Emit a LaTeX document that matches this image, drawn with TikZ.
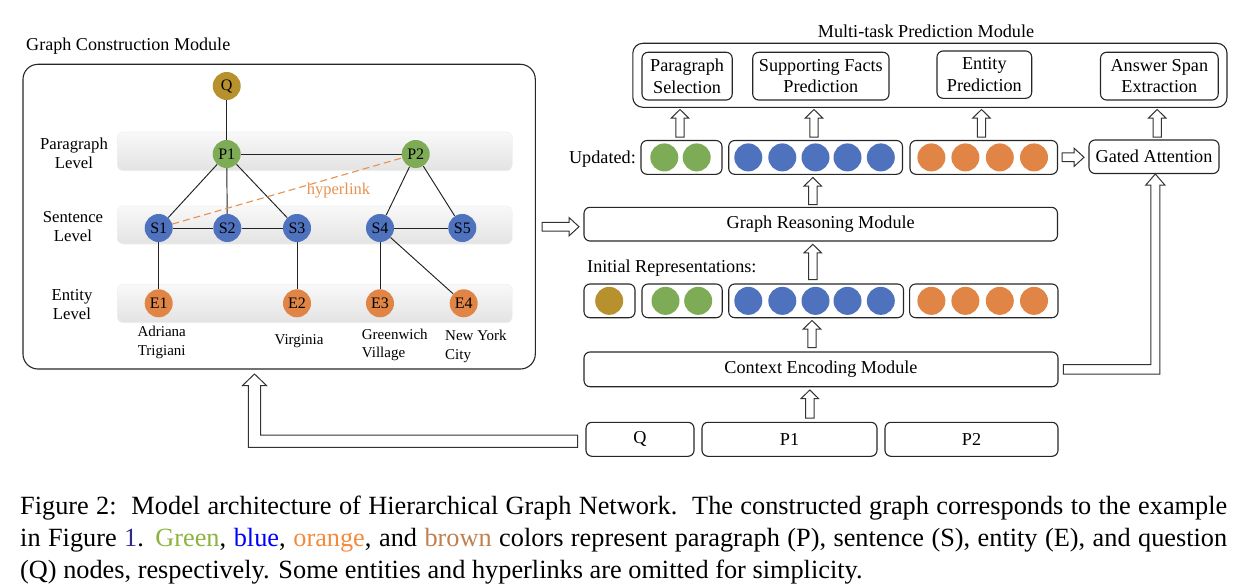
\documentclass[tikz,border=0pt]{standalone}
\usepackage{fontspec}
\setmainfont{Liberation Serif}
\usetikzlibrary{calc}
\definecolor{cgreen}{HTML}{7EAB55}
\definecolor{cblue}{HTML}{4F72BE}
\definecolor{corange}{HTML}{E08546}
\definecolor{cbrown}{HTML}{B8912F}
\definecolor{hyper}{HTML}{E8914F}
\definecolor{capgreen}{HTML}{8CB43C}
\definecolor{capblue}{HTML}{0000FF}
\definecolor{caporange}{HTML}{F58A3C}
\definecolor{capbrown}{HTML}{C08050}
\definecolor{caplink}{HTML}{2E2A8A}
\definecolor{edgecol}{HTML}{222222}
\pgfdeclarelayer{bottom}
\pgfdeclarelayer{background}
\pgfsetlayers{bottom,background,main}
\newcommand{\blockup}[3]{\draw[barrow] (#1-4.2,#3) -- (#1-4.2,#2+8.5) -- (#1-8.7,#2+8.5) -- (#1,#2) -- (#1+8.7,#2+8.5) -- (#1+4.2,#2+8.5) -- (#1+4.2,#3) -- cycle;}
\newcommand{\blockright}[3]{\draw[barrow] (#2,#1-4.4) -- (#3-10,#1-4.4) -- (#3-10,#1-9.2) -- (#3,#1) -- (#3-10,#1+9.2) -- (#3-10,#1+4.4) -- (#2,#1+4.4) -- cycle;}
\begin{document}
\begin{tikzpicture}[x=1pt,y=-1pt,
  fs/.style={font=\fontsize{18.2}{21.7}\selectfont},
  rbox/.style={draw=black!85, line width=1.1pt, rounded corners=6pt, inner sep=0pt, align=center, fs},
  band/.style={rounded corners=6pt, top color=gray!5, bottom color=gray!22, draw=gray!12, line width=0.6pt},
  gnode/.style={circle, minimum size=28pt, inner sep=0pt, font=\fontsize{16}{16}\selectfont},
  dot/.style={circle, minimum size=28pt, inner sep=0pt},
  edge/.style={draw=edgecol, line width=0.95pt},
  barrow/.style={draw=black!80, line width=1pt, fill=white, line join=miter},
  lvl/.style={align=center, inner sep=0pt, font=\fontsize{16.7}{19}\selectfont},
  ent/.style={inner sep=0pt, font=\fontsize{15}{18.7}\selectfont},
  lbl/.style={inner sep=0pt, fs},
  captxt/.style={inner sep=0pt, anchor=base west, font=\fontsize{26.3}{32}\selectfont},
]
\useasboundingbox (0,0) rectangle (1258,586);

% ---------------- Graph Construction Module ----------------
\node[lbl, anchor=west, font=\fontsize{18.1}{20}\selectfont] (gcmtitle) at (26,45.7) {Graph Construction Module};
\node[draw=black!85, line width=1.1pt, rounded corners=15pt, minimum width=512.3pt, minimum height=304.7pt, inner sep=0pt] (gcm) at (279.15,216.65) {};

\begin{pgfonlayer}{bottom}
\draw[band] (117.3,132) rectangle (512.3,170.7);
\draw[band] (117.3,206) rectangle (512.3,244);
\draw[band] (117.3,284.3) rectangle (512.3,322.7);
\end{pgfonlayer}

\node[lvl] (lp) at (74,153.5) {Paragraph\\Level};
\node[lvl] (ls) at (73,226.3) {Sentence\\Level};
\node[lvl] (le) at (72,304.5) {Entity\\Level};

\node[gnode, fill=cbrown] (Q) at (226.7,86) {Q};
\node[gnode, fill=cgreen] (P1) at (226.7,154) {P1};
\node[gnode, fill=cgreen] (P2) at (415.7,154) {P2};
\node[gnode, fill=cblue] (S1) at (158.7,228) {S1};
\node[gnode, fill=cblue] (S2) at (227.3,228) {S2};
\node[gnode, fill=cblue] (S3) at (297,228) {S3};
\node[gnode, fill=cblue] (S4) at (380,228) {S4};
\node[gnode, fill=cblue] (S5) at (462.3,228) {S5};
\node[gnode, fill=corange] (E1) at (158.7,303.3) {E1};
\node[gnode, fill=corange] (E2) at (297,303.3) {E2};
\node[gnode, fill=corange] (E3) at (380,303.3) {E3};
\node[gnode, fill=corange] (E4) at (463.7,303.3) {E4};

\begin{pgfonlayer}{background}
\draw[edge] (Q) -- (P1);
\draw[edge] (P1) -- (P2);
\draw[edge] (P1) -- (S1);
\draw[edge] (P1) -- (S2);
\draw[edge] (P1) -- (S3);
\draw[edge] (P2) -- (S4);
\draw[edge] (P2) -- (S5);
\draw[edge] (S1) -- (S2);
\draw[edge] (S2) -- (S3);
\draw[edge] (S4) -- (S5);
\draw[edge] (S1) -- (E1);
\draw[edge] (S3) -- (E2);
\draw[edge] (S4) -- (E3);
\draw[edge] (S4) -- (E4);
\draw[hyper, line width=1.1pt, dash pattern=on 7pt off 4pt] (S1) -- (P2);
\end{pgfonlayer}

\node[inner sep=0pt, text=hyper, font=\fontsize{16.5}{18}\selectfont] (hl) at (338.5,190.5) {hyperlink};

\node[ent, align=center] (n1) at (161.7,342.3) {Adriana\\Trigiani};
\node[ent] (n2) at (299,341) {Virginia};
\node[ent, align=left, anchor=west] (n3) at (361.7,345) {Greenwich\\Village};
\node[ent, align=left, anchor=west] (n4) at (445,346.7) {New York\\City};

% ---------------- Multi-task Prediction Module ----------------
\node[lbl] (mtptitle) at (926,31.7) {Multi-task Prediction Module};
\node[rbox, rounded corners=10pt, minimum width=594.2pt, minimum height=64pt] (mtp) at (929.9,75.3) {};
\node[rbox, minimum width=90.2pt, minimum height=47.7pt] (ps) at (687.1,76.15) {Paragraph\\Selection};
\node[rbox, minimum width=136.3pt, minimum height=47.7pt] (sf) at (820.85,76.15) {Supporting Facts\\Prediction};
\node[rbox, minimum width=94.7pt, minimum height=47.3pt] (ep) at (984.35,74.65) {Entity\\Prediction};
\node[rbox, minimum width=117.7pt, minimum height=47.7pt] (as) at (1159.35,76.15) {Answer Span\\Extraction};

% ---------------- Updated representations ----------------
\node[lbl, anchor=east] (updl) at (636,159) {Updated:};
\node[rbox, minimum width=81pt, minimum height=33.8pt] (ug) at (681.5,157.4) {};
\node[rbox, minimum width=173.8pt, minimum height=33.8pt] (ub) at (815.6,157.4) {};
\node[rbox, minimum width=147.5pt, minimum height=33.8pt] (uo) at (983.75,157.4) {};
\node[rbox, minimum width=130pt, minimum height=33.5pt] (ga) at (1154,156.75) {Gated Attention};

\node[dot, fill=cgreen] (ug1) at (664.3,157.4) {};
\node[dot, fill=cgreen] (ug2) at (696.7,157.4) {};
\node[dot, fill=cblue] (ub1) at (748.3,157.4) {};
\node[dot, fill=cblue] (ub2) at (782.3,157.4) {};
\node[dot, fill=cblue] (ub3) at (815.5,157.4) {};
\node[dot, fill=cblue] (ub4) at (847.5,157.4) {};
\node[dot, fill=cblue] (ub5) at (880.8,157.4) {};
\node[dot, fill=corange] (uo1) at (931.4,157.4) {};
\node[dot, fill=corange] (uo2) at (965.4,157.4) {};
\node[dot, fill=corange] (uo3) at (999.8,157.4) {};
\node[dot, fill=corange] (uo4) at (1034,157.4) {};

% ---------------- Graph Reasoning ----------------
\node[rbox, minimum width=473.5pt, minimum height=33.7pt] (gr) at (820.75,224.15) {Graph Reasoning Module};

% ---------------- Initial representations ----------------
\node[lbl, anchor=west] (inil) at (587,268.3) {Initial Representations:};
\node[rbox, minimum width=51pt, minimum height=33.7pt] (ib) at (609.5,300.85) {};
\node[rbox, minimum width=80.2pt, minimum height=33.7pt] (ig) at (682.1,300.85) {};
\node[rbox, minimum width=174.8pt, minimum height=33.7pt] (ibl) at (816.1,300.85) {};
\node[rbox, minimum width=148.4pt, minimum height=33.7pt] (io) at (983.8,300.85) {};

\node[dot, fill=cbrown] (ib1) at (609.2,300.85) {};
\node[dot, fill=cgreen] (ig1) at (665.5,300.85) {};
\node[dot, fill=cgreen] (ig2) at (698.2,300.85) {};
\node[dot, fill=cblue] (ibl1) at (748.3,300.85) {};
\node[dot, fill=cblue] (ibl2) at (782.3,300.85) {};
\node[dot, fill=cblue] (ibl3) at (815.5,300.85) {};
\node[dot, fill=cblue] (ibl4) at (847.5,300.85) {};
\node[dot, fill=cblue] (ibl5) at (880.8,300.85) {};
\node[dot, fill=corange] (io1) at (931.4,300.85) {};
\node[dot, fill=corange] (io2) at (965.4,300.85) {};
\node[dot, fill=corange] (io3) at (999.8,300.85) {};
\node[dot, fill=corange] (io4) at (1034,300.85) {};

% ---------------- Context Encoding and inputs ----------------
\node[rbox, minimum width=474pt, minimum height=34.7pt] (ce) at (821,369.35) {Context Encoding Module};
\node[rbox, minimum width=108pt, minimum height=34pt] (iq) at (640,439.3) {Q};
\node[rbox, minimum width=175pt, minimum height=34pt] (ip1) at (789.5,439.3) {P1};
\node[rbox, minimum width=173pt, minimum height=34pt] (ip2) at (971.5,439.3) {P2};

% ---------------- Block arrows ----------------
\blockup{680}{109.5}{137}
\blockup{814}{109.5}{137}
\blockup{981.5}{109.5}{137}
\blockup{1157.2}{109.5}{137}
\blockup{812.8}{177.5}{204.5}
\blockup{812.8}{244.3}{279.5}
\blockup{812}{320.5}{347.5}
\blockup{809.8}{390}{418}
\blockright{226.7}{542}{579}
\blockright{157.3}{1062}{1084}

% context encoding -> gated attention
\draw[barrow] (1063.3,364.5) -- (1150.8,364.5) -- (1150.8,185) -- (1145.8,185) -- (1155.3,174) -- (1164.8,185) -- (1159.8,185) -- (1159.8,374) -- (1063.3,374) -- cycle;
% input Q -> graph construction
\draw[barrow] (577.7,435) -- (260.7,435) -- (260.7,385.7) -- (266.7,385.7) -- (254.5,374) -- (242.3,385.7) -- (248.3,385.7) -- (248.3,447.3) -- (577.7,447.3) -- cycle;

% ---------------- Caption ----------------
\node[captxt] (cap1) at (20,514) {\makebox[1207pt][s]{Figure 2:\ \ Model architecture of Hierarchical Graph Network.\ \ The constructed graph corresponds to the example}};
\node[captxt] (cap2) at (20,546) {\makebox[1207pt][s]{in Figure \textcolor{caplink}{1}. \textcolor{capgreen}{Green}, \textcolor{capblue}{blue}, \textcolor{caporange}{orange}, and \textcolor{capbrown}{brown} colors represent paragraph (P), sentence (S), entity (E), and question}};
\node[captxt] (cap3) at (20,578) {(Q) nodes, respectively. Some entities and hyperlinks are omitted for simplicity.};
\end{tikzpicture}
\end{document}
